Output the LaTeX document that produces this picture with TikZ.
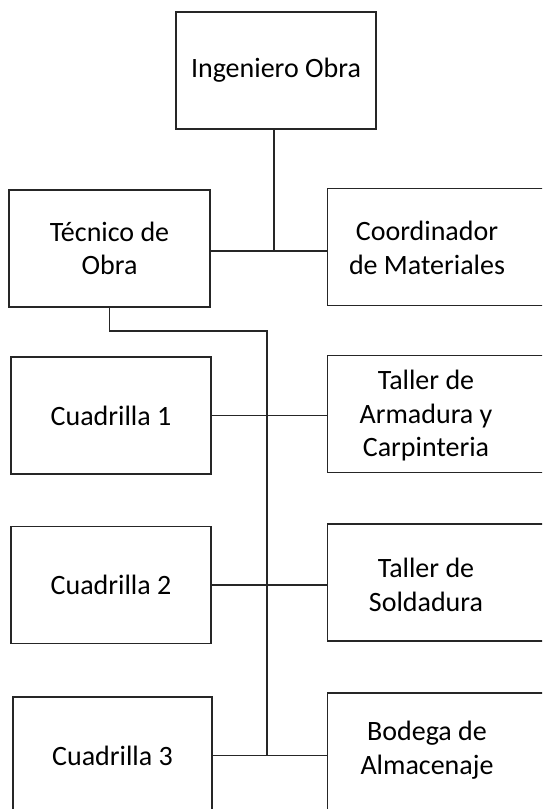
\documentclass[tikz,border=0pt]{standalone}
\usepackage{fontspec}
\setmainfont{Carlito}

\begin{document}
\begin{tikzpicture}[x=1pt, y=-1pt, line width=1.6pt, draw=black!85,
		orgBox/.style={draw, rectangle, inner sep=0pt, minimum width=200pt, minimum height=117pt, align=center},
		sideBox/.style={draw, rectangle, inner sep=0pt, minimum width=240pt, minimum height=117pt, anchor=west},
		boxText/.style={align=center, inner sep=0pt}]
	\fontsize{28}{33.5}\selectfont
	
	% page frame, the right boxes run off the edge
	\clip (0,0) rectangle (542,809);
	
	% boxes on the left and at the top
	\node[orgBox] (ingeniero) at (276,70.5) {Ingeniero Obra};
	\node[orgBox, minimum width=201pt] (tecnico) at (109.5,248.5) {Técnico de\\Obra};
	\node[orgBox] (cuadrilla1) at (111,415.5) {Cuadrilla 1};
	\node[orgBox] (cuadrilla2) at (111,585) {Cuadrilla 2};
	\node[orgBox, minimum width=199pt] (cuadrilla3) at (112.5,755.5) {Cuadrilla 3};
	
	% boxes on the right
	\node[sideBox] (coordinador) at (326.5,247) {};
	\node[sideBox] (tallerArm) at (326.5,414) {};
	\node[sideBox] (tallerSold) at (326.5,582.5) {};
	\node[sideBox] (bodega) at (326.5,751.5) {};
	\node[boxText] (coordinadorTxt) at (427,248) {Coordinador\\de Materiales};
	\node[boxText] (tallerArmTxt) at (426,416) {Taller de\\Armadura y\\Carpinteria};
	\node[boxText] (tallerSoldTxt) at (426,585) {Taller de\\Soldadura};
	\node[boxText] (bodegaTxt) at (427,750) {Bodega de\\Almacenaje};
	
	% upper level
	\coordinate (topJoint) at (274,251);
	\draw (tecnico.east |- topJoint) -- (coordinador.west |- topJoint);
	\draw (ingeniero.south -| topJoint) -- (topJoint);
	
	% spine below the Tecnico
	\coordinate (spineTop) at (267,331);
	\draw (tecnico.south) |- (spineTop) -- (spineTop |- cuadrilla3.east);
	
	% rows
	\foreach \l/\r in {cuadrilla1/tallerArm, cuadrilla2/tallerSold, cuadrilla3/bodega}
	\draw (\l.east) -- (\r.west |- \l.east);
\end{tikzpicture}
\end{document}
